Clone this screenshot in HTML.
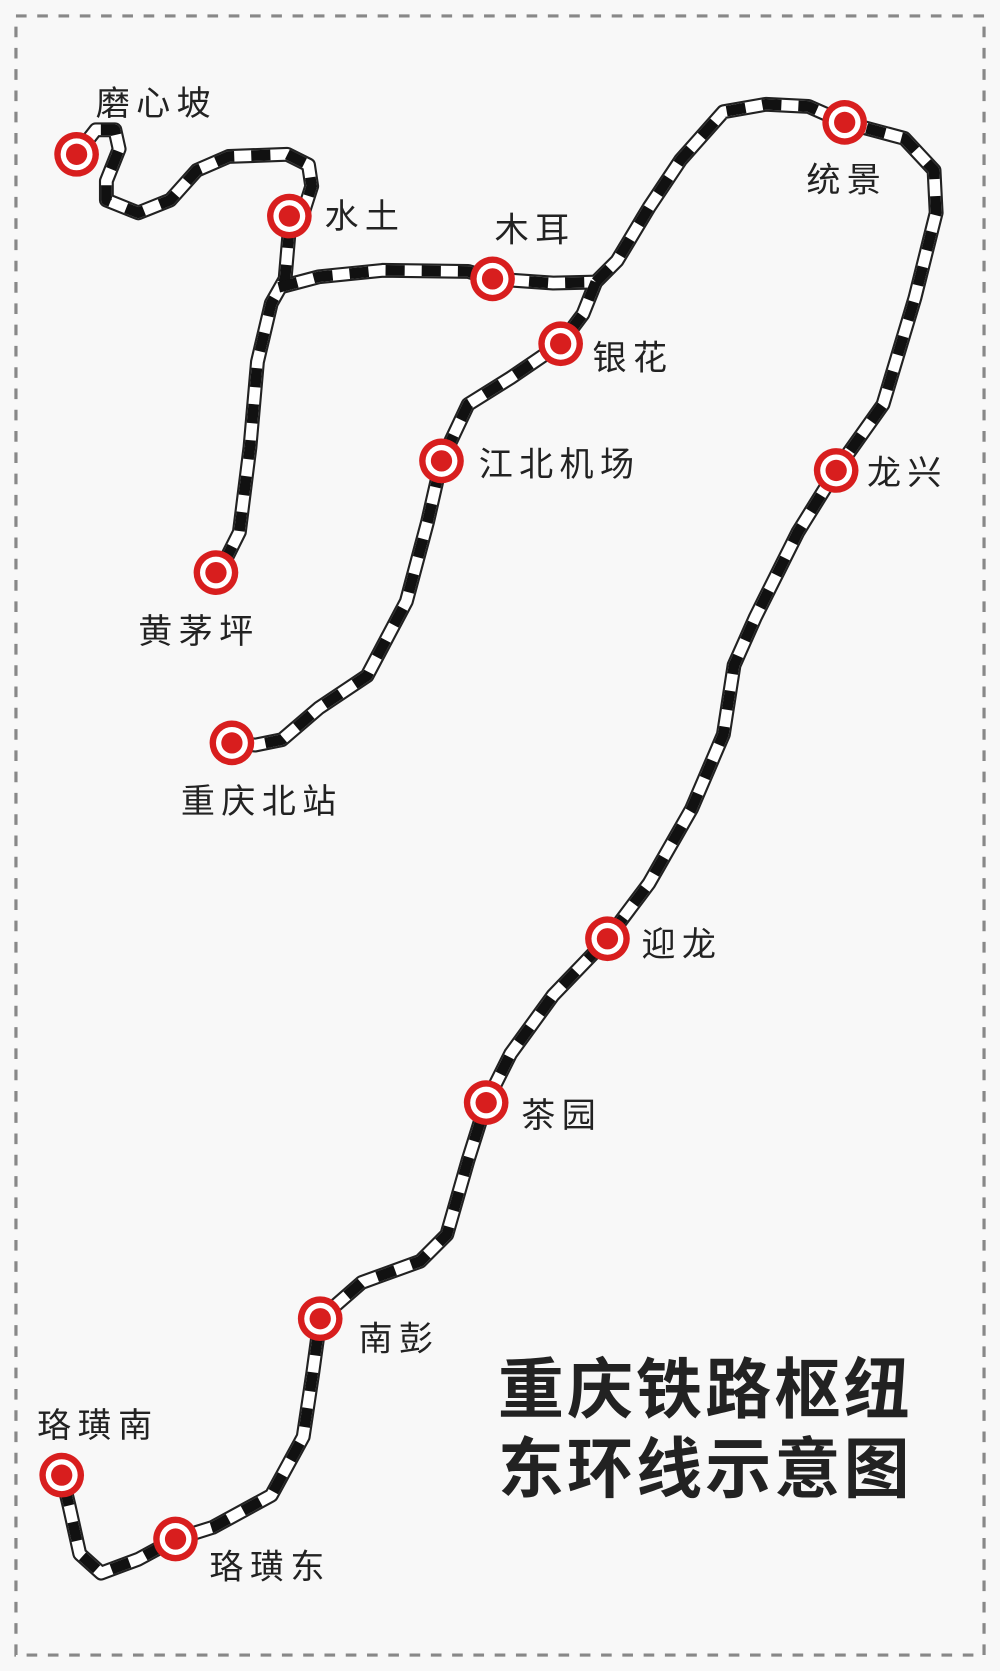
<!DOCTYPE html>
<html><head><meta charset="utf-8"><style>
html,body{margin:0;padding:0;background:#f8f8f8;}
svg{display:block;}
text{font-family:"Liberation Sans","Noto Sans CJK SC",sans-serif;fill:#222;}
</style></head><body>
<svg width="1000" height="1671" viewBox="0 0 940 1570" preserveAspectRatio="none" xmlns="http://www.w3.org/2000/svg">
<rect x="0" y="0" width="940" height="1570" fill="#f8f8f8"/>
<rect x="15" y="15" width="910" height="1540" fill="none" stroke="#888" stroke-width="3" stroke-dasharray="10 10"/>
<defs>
<g id="tracks">
<polyline points="72,145 90,122 108,122 112,140 100,170 100,188 130,200 160,188 185,160 215,147 270,145 290,155 293,175 285,200"/>
<polyline points="272,215 268,262 255,285 242,340 235,420 225,500 210,530 203,538"/>
<polyline points="262,270 300,260 360,254 440,255 463,262 520,266 560,265"/>
<polyline points="560,265 548,295 527,323"/>
<polyline points="560,265 580,245 610,195 640,150 680,105 720,98 760,100 794,115 850,130 878,160 880,200 860,280 830,380 786,442 750,500 710,580 690,625 680,690 650,760 610,830 571,882 520,935 480,990 457,1036 440,1090 420,1160 395,1185 340,1205 301,1239 294,1290 285,1350 255,1405 200,1435 165,1446 130,1465 95,1478 75,1460 65,1415 58,1386"/>
<polyline points="527,323 480,355 440,380 415,433 402,490 382,565 345,635 300,665 265,695 240,700 218,698"/>
</g>
</defs>
<g fill="none" stroke-linejoin="round" stroke-linecap="butt">
<use href="#tracks" stroke="#222" stroke-width="14"/>
<use href="#tracks" stroke="#fff" stroke-width="10"/>
<use href="#tracks" stroke="#111" stroke-width="10" stroke-dasharray="18 16"/>
</g>
<g>
<g transform="translate(72,145)"><circle r="21" fill="#d81e1e"/><circle r="15" fill="#fff"/><circle r="10" fill="#d81e1e"/></g>
<g transform="translate(272,203)"><circle r="21" fill="#d81e1e"/><circle r="15" fill="#fff"/><circle r="10" fill="#d81e1e"/></g>
<g transform="translate(463,262)"><circle r="21" fill="#d81e1e"/><circle r="15" fill="#fff"/><circle r="10" fill="#d81e1e"/></g>
<g transform="translate(527,323)"><circle r="21" fill="#d81e1e"/><circle r="15" fill="#fff"/><circle r="10" fill="#d81e1e"/></g>
<g transform="translate(415,433)"><circle r="21" fill="#d81e1e"/><circle r="15" fill="#fff"/><circle r="10" fill="#d81e1e"/></g>
<g transform="translate(203,538)"><circle r="21" fill="#d81e1e"/><circle r="15" fill="#fff"/><circle r="10" fill="#d81e1e"/></g>
<g transform="translate(218,698)"><circle r="21" fill="#d81e1e"/><circle r="15" fill="#fff"/><circle r="10" fill="#d81e1e"/></g>
<g transform="translate(794,115)"><circle r="21" fill="#d81e1e"/><circle r="15" fill="#fff"/><circle r="10" fill="#d81e1e"/></g>
<g transform="translate(786,442)"><circle r="21" fill="#d81e1e"/><circle r="15" fill="#fff"/><circle r="10" fill="#d81e1e"/></g>
<g transform="translate(571,882)"><circle r="21" fill="#d81e1e"/><circle r="15" fill="#fff"/><circle r="10" fill="#d81e1e"/></g>
<g transform="translate(457,1036)"><circle r="21" fill="#d81e1e"/><circle r="15" fill="#fff"/><circle r="10" fill="#d81e1e"/></g>
<g transform="translate(301,1239)"><circle r="21" fill="#d81e1e"/><circle r="15" fill="#fff"/><circle r="10" fill="#d81e1e"/></g>
<g transform="translate(58,1386)"><circle r="21" fill="#d81e1e"/><circle r="15" fill="#fff"/><circle r="10" fill="#d81e1e"/></g>
<g transform="translate(165,1446)"><circle r="21" fill="#d81e1e"/><circle r="15" fill="#fff"/><circle r="10" fill="#d81e1e"/></g>
</g>
<g font-size="32" letter-spacing="6">
<text x="90" y="108">磨心坡</text>
<text x="305" y="214">水土</text>
<text x="465" y="227">木耳</text>
<text x="557" y="347">银花</text>
<text x="450" y="447">江北机场</text>
<text x="130" y="604">黄茅坪</text>
<text x="170" y="764">重庆北站</text>
<text x="758" y="180">统景</text>
<text x="815" y="455">龙兴</text>
<text x="603" y="898">迎龙</text>
<text x="490" y="1059">茶园</text>
<text x="337" y="1269">南彭</text>
<text x="35" y="1350">珞璜南</text>
<text x="197" y="1483">珞璜东</text>
</g>
<g font-size="62" font-weight="bold" style="font-family:'Noto Serif CJK SC','Noto Sans CJK SC',serif">
<text x="468" y="1327" letter-spacing="3">重庆铁路枢纽</text>
<text x="468" y="1402" letter-spacing="3">东环线示意图</text>
</g>
</svg>
</body></html>
